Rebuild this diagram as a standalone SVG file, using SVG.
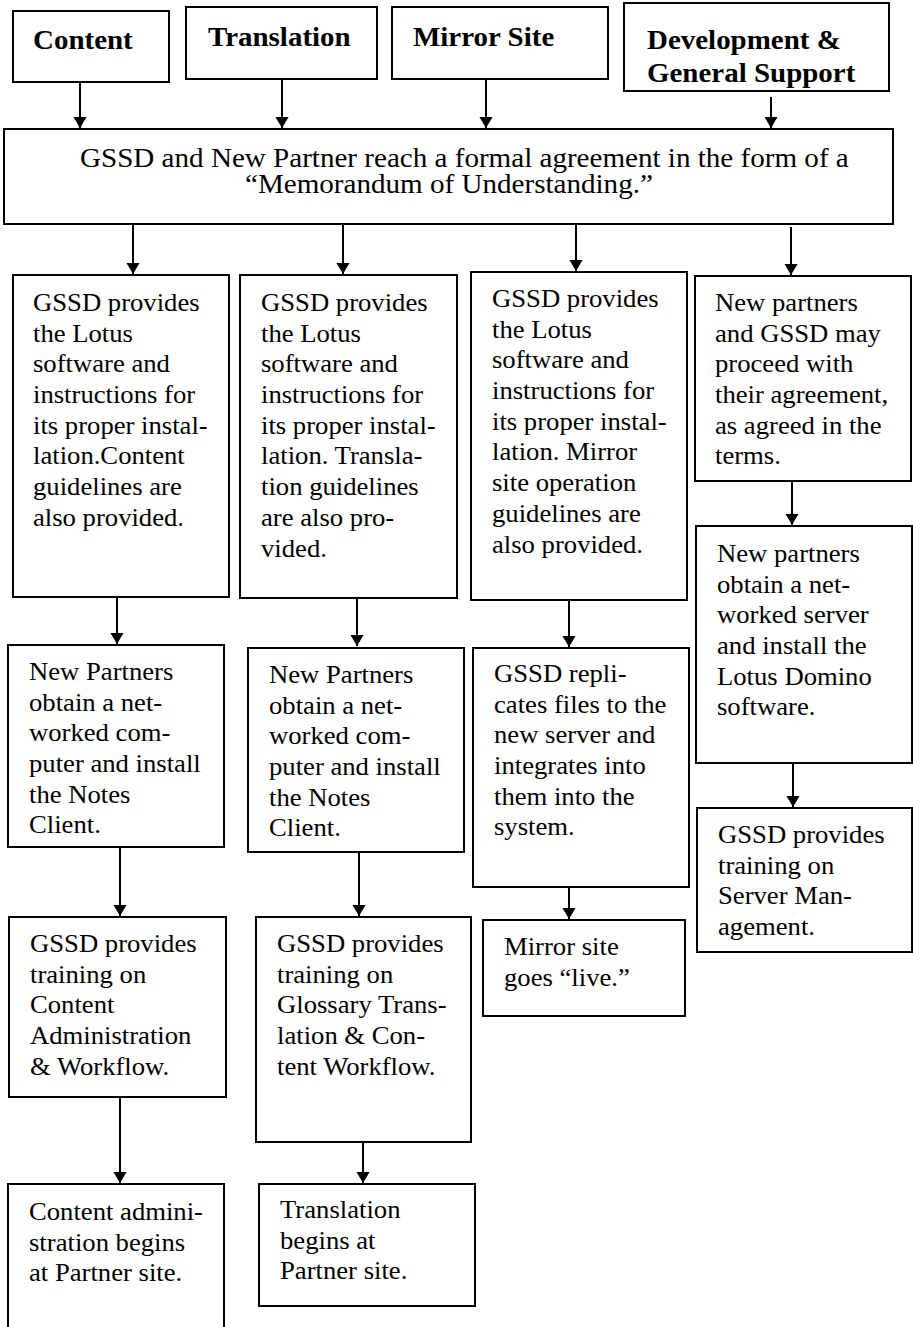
<svg xmlns="http://www.w3.org/2000/svg" width="913" height="1327" viewBox="0 0 913 1327">
<style>
.box{fill:#fff;stroke:#000;stroke-width:2}
.c{stroke:#000;stroke-width:2;fill:none}
</style>
<defs>
<marker id="ah" markerUnits="userSpaceOnUse" markerWidth="16" markerHeight="14" viewBox="0 0 13 16" refX="12.5" refY="8" orient="auto">
<path d="M0,0.5 L12.5,8 L0,15.5 Z" fill="#000"/>
</marker>
</defs>
<g id="connectors">
<line class="c" x1="80" y1="82" x2="80" y2="128" marker-end="url(#ah)"/>
<line class="c" x1="282" y1="79" x2="282" y2="128" marker-end="url(#ah)"/>
<line class="c" x1="486" y1="79" x2="486" y2="128" marker-end="url(#ah)"/>
<line class="c" x1="771" y1="97" x2="771" y2="128" marker-end="url(#ah)"/>
<line class="c" x1="133" y1="224" x2="133" y2="274" marker-end="url(#ah)"/>
<line class="c" x1="343" y1="224" x2="343" y2="274" marker-end="url(#ah)"/>
<line class="c" x1="576" y1="224" x2="576" y2="271" marker-end="url(#ah)"/>
<line class="c" x1="791" y1="227" x2="791" y2="275" marker-end="url(#ah)"/>
<line class="c" x1="792" y1="481" x2="792" y2="525" marker-end="url(#ah)"/>
<line class="c" x1="117" y1="597" x2="117" y2="644" marker-end="url(#ah)"/>
<line class="c" x1="357" y1="598" x2="357" y2="646" marker-end="url(#ah)"/>
<line class="c" x1="569" y1="600" x2="569" y2="647" marker-end="url(#ah)"/>
<line class="c" x1="120" y1="847" x2="120" y2="916" marker-end="url(#ah)"/>
<line class="c" x1="359" y1="848" x2="359" y2="916" marker-end="url(#ah)"/>
<line class="c" x1="569" y1="887" x2="569" y2="919" marker-end="url(#ah)"/>
<line class="c" x1="793" y1="763" x2="793" y2="807" marker-end="url(#ah)"/>
<line class="c" x1="120" y1="1087" x2="120" y2="1183" marker-end="url(#ah)"/>
<line class="c" x1="363" y1="1142" x2="363" y2="1183" marker-end="url(#ah)"/>
</g>
<g font-family="Liberation Serif, Times New Roman, serif" font-size="26.7" font-weight="bold" fill="#000">
<g id="hdr-content">
<rect class="box" x="13" y="11" width="156" height="71"/>
<text transform="translate(33,49) scale(1.085,1)">Content</text>
</g>
<g id="hdr-translation">
<rect class="box" x="186" y="7" width="191" height="72"/>
<text transform="translate(208,46) scale(1.085,1)">Translation</text>
</g>
<g id="hdr-mirror">
<rect class="box" x="392" y="7" width="216" height="72"/>
<text transform="translate(413,46) scale(1.085,1)">Mirror Site</text>
</g>
<g id="hdr-dev">
<rect class="box" x="624" y="3" width="265" height="88"/>
<text transform="translate(647,49) scale(1.085,1)"><tspan x="0" y="0">Development &amp;</tspan><tspan x="0" y="33">General Support</tspan></text>
</g>
</g>
<g font-family="Liberation Serif, Times New Roman, serif" font-size="26.7" fill="#000">
<g id="agreement">
<rect class="box" x="4" y="129" width="889" height="95"/>
<text transform="translate(80,167) scale(1.09,1)"><tspan x="0" y="0">GSSD and New Partner reach a formal agreement in the form of a</tspan><tspan x="151.4" y="26">“Memorandum of Understanding.”</tspan></text>
</g>
</g>
<g font-family="Liberation Serif, Times New Roman, serif" font-size="24.7" fill="#000">
<g id="c1">
<rect class="box" x="13" y="275" width="216" height="322"/>
<text transform="translate(33,311) scale(1.08,1)"><tspan x="0" y="0">GSSD provides</tspan><tspan x="0" y="30.7">the Lotus</tspan><tspan x="0" y="61.4">software and</tspan><tspan x="0" y="92.1">instructions for</tspan><tspan x="0" y="122.8">its proper instal-</tspan><tspan x="0" y="153.5">lation.Content</tspan><tspan x="0" y="184.2">guidelines are</tspan><tspan x="0" y="214.9">also provided.</tspan></text>
</g>
<g id="t1">
<rect class="box" x="240" y="275" width="217" height="323"/>
<text transform="translate(261,311) scale(1.08,1)"><tspan x="0" y="0">GSSD provides</tspan><tspan x="0" y="30.7">the Lotus</tspan><tspan x="0" y="61.4">software and</tspan><tspan x="0" y="92.1">instructions for</tspan><tspan x="0" y="122.8">its proper instal-</tspan><tspan x="0" y="153.5">lation. Transla-</tspan><tspan x="0" y="184.2">tion guidelines</tspan><tspan x="0" y="214.9">are also pro-</tspan><tspan x="0" y="245.6">vided.</tspan></text>
</g>
<g id="m1">
<rect class="box" x="471" y="272" width="216" height="328"/>
<text transform="translate(492,307) scale(1.08,1)"><tspan x="0" y="0">GSSD provides</tspan><tspan x="0" y="30.7">the Lotus</tspan><tspan x="0" y="61.4">software and</tspan><tspan x="0" y="92.1">instructions for</tspan><tspan x="0" y="122.8">its proper instal-</tspan><tspan x="0" y="153.5">lation. Mirror</tspan><tspan x="0" y="184.2">site operation</tspan><tspan x="0" y="214.9">guidelines are</tspan><tspan x="0" y="245.6">also provided.</tspan></text>
</g>
<g id="d1">
<rect class="box" x="695" y="276" width="216" height="205"/>
<text transform="translate(715,311) scale(1.08,1)"><tspan x="0" y="0">New partners</tspan><tspan x="0" y="30.7">and GSSD may</tspan><tspan x="0" y="61.4">proceed with</tspan><tspan x="0" y="92.1">their agreement,</tspan><tspan x="0" y="122.8">as agreed in the</tspan><tspan x="0" y="153.5">terms.</tspan></text>
</g>
<g id="d2">
<rect class="box" x="696" y="526" width="216" height="237"/>
<text transform="translate(717,562) scale(1.08,1)"><tspan x="0" y="0">New partners</tspan><tspan x="0" y="30.7">obtain a net-</tspan><tspan x="0" y="61.4">worked server</tspan><tspan x="0" y="92.1">and install the</tspan><tspan x="0" y="122.8">Lotus Domino</tspan><tspan x="0" y="153.5">software.</tspan></text>
</g>
<g id="m2">
<rect class="box" x="473" y="648" width="216" height="239"/>
<text transform="translate(494,682) scale(1.08,1)"><tspan x="0" y="0">GSSD repli-</tspan><tspan x="0" y="30.7">cates files to the</tspan><tspan x="0" y="61.4">new server and</tspan><tspan x="0" y="92.1">integrates into</tspan><tspan x="0" y="122.8">them into the</tspan><tspan x="0" y="153.5">system.</tspan></text>
</g>
<g id="m3">
<rect class="box" x="483" y="920" width="202" height="96"/>
<text transform="translate(504,955) scale(1.08,1)"><tspan x="0" y="0">Mirror site</tspan><tspan x="0" y="30.7">goes “live.”</tspan></text>
</g>
<g id="d3">
<rect class="box" x="697" y="808" width="215" height="144"/>
<text transform="translate(718,843) scale(1.08,1)"><tspan x="0" y="0">GSSD provides</tspan><tspan x="0" y="30.7">training on</tspan><tspan x="0" y="61.4">Server Man-</tspan><tspan x="0" y="92.1">agement.</tspan></text>
</g>
<g id="c2">
<rect class="box" x="8" y="645" width="216" height="202"/>
<text transform="translate(29,680) scale(1.08,1)"><tspan x="0" y="0">New Partners</tspan><tspan x="0" y="30.7">obtain a net-</tspan><tspan x="0" y="61.4">worked com-</tspan><tspan x="0" y="92.1">puter and install</tspan><tspan x="0" y="122.8">the Notes</tspan><tspan x="0" y="153.5">Client.</tspan></text>
</g>
<g id="t2">
<rect class="box" x="248" y="648" width="216" height="204"/>
<text transform="translate(269,683) scale(1.08,1)"><tspan x="0" y="0">New Partners</tspan><tspan x="0" y="30.7">obtain a net-</tspan><tspan x="0" y="61.4">worked com-</tspan><tspan x="0" y="92.1">puter and install</tspan><tspan x="0" y="122.8">the Notes</tspan><tspan x="0" y="153.5">Client.</tspan></text>
</g>
<g id="c3">
<rect class="box" x="9" y="917" width="217" height="180"/>
<text transform="translate(30,952) scale(1.08,1)"><tspan x="0" y="0">GSSD provides</tspan><tspan x="0" y="30.7">training on</tspan><tspan x="0" y="61.4">Content</tspan><tspan x="0" y="92.1">Administration</tspan><tspan x="0" y="122.8">&amp; Workflow.</tspan></text>
</g>
<g id="t3">
<rect class="box" x="256" y="917" width="215" height="225"/>
<text transform="translate(277,952) scale(1.08,1)"><tspan x="0" y="0">GSSD provides</tspan><tspan x="0" y="30.7">training on</tspan><tspan x="0" y="61.4">Glossary Trans-</tspan><tspan x="0" y="92.1">lation &amp; Con-</tspan><tspan x="0" y="122.8">tent Workflow.</tspan></text>
</g>
<g id="c4">
<rect class="box" x="8" y="1184" width="216" height="160"/>
<text transform="translate(29,1220) scale(1.08,1)"><tspan x="0" y="0">Content admini-</tspan><tspan x="0" y="30.7">stration begins</tspan><tspan x="0" y="61.4">at Partner site.</tspan></text>
</g>
<g id="t4">
<rect class="box" x="259" y="1184" width="216" height="122"/>
<text transform="translate(280,1218) scale(1.08,1)"><tspan x="0" y="0">Translation</tspan><tspan x="0" y="30.7">begins at</tspan><tspan x="0" y="61.4">Partner site.</tspan></text>
</g>
</g>
</svg>
